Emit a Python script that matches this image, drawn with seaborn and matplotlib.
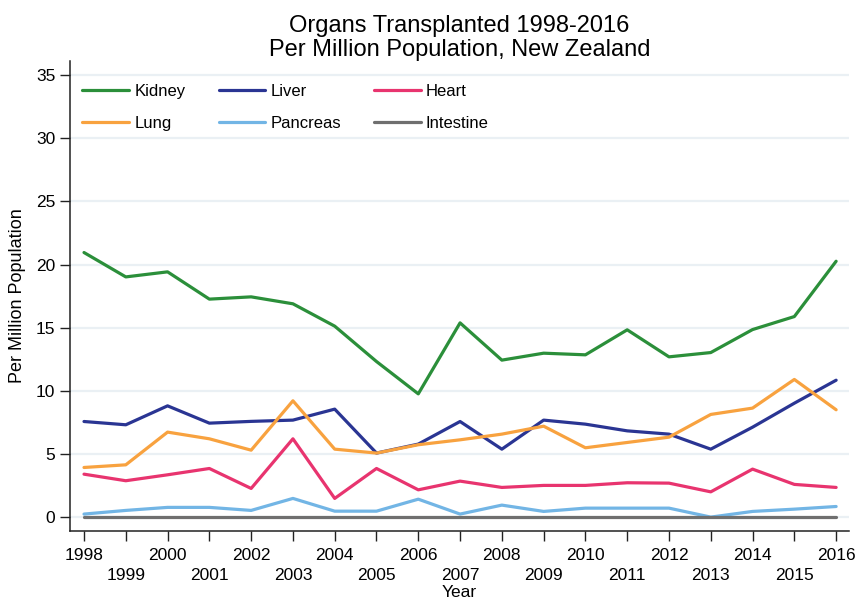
import matplotlib
matplotlib.use("Agg")
import matplotlib.pyplot as plt
import seaborn as sns
import pandas as pd

years = list(range(1998, 2017))
kidney = [20.95, 19.02, 19.42, 17.26, 17.44, 16.89, 15.12, 12.32, 9.76, 15.38,
          12.43, 12.98, 12.85, 14.83, 12.69, 13.03, 14.85, 15.88, 20.26]
liver = [7.57, 7.31, 8.81, 7.44, 7.58, 7.68, 8.55, 5.07, 5.78, 7.57,
         5.38, 7.68, 7.36, 6.83, 6.57, 5.38, 7.12, 9.02, 10.84]
heart = [3.40, 2.88, 3.35, 3.85, 2.27, 6.20, 1.48, 3.85, 2.16, 2.85,
         2.35, 2.51, 2.51, 2.72, 2.69, 2.00, 3.80, 2.59, 2.35]
lung = [3.93, 4.14, 6.73, 6.20, 5.30, 9.21, 5.38, 5.07, 5.73, 6.12,
        6.57, 7.20, 5.49, 5.91, 6.33, 8.13, 8.63, 10.90, 8.50]
pancreas = [0.24, 0.53, 0.77, 0.77, 0.53, 1.48, 0.47, 0.47, 1.42, 0.24,
            0.95, 0.45, 0.71, 0.71, 0.71, 0.0, 0.45, 0.63, 0.84]
intestine = [0.0] * 19

organs = ["Kidney", "Liver", "Heart", "Lung", "Pancreas", "Intestine"]
series = [kidney, liver, heart, lung, pancreas, intestine]
colors = {"Kidney": "#2b8f3a", "Liver": "#2a3593", "Heart": "#e8346f",
          "Lung": "#f8a23f", "Pancreas": "#72b5e5", "Intestine": "#6f6f6f"}

even_years = [y for y in years if y % 2 == 0]
odd_years = [y for y in years if y % 2 == 1]
y_ticks = [0, 5, 10, 15, 20, 25, 30, 35]

df = pd.DataFrame({
    "Year": [y for s in series for y in years],
    "Value": [v for s in series for v in s],
    "Organ": [o for o, s in zip(organs, series) for _ in years],
})

sns.set_style("white")
plt.rcParams["font.family"] = ["Liberation Sans", "DejaVu Sans"]
plt.rcParams["text.color"] = "black"
plt.rcParams["axes.labelcolor"] = "black"

fig = plt.figure(figsize=(8.58, 6.0), dpi=100)
ax = fig.add_axes([0.0816, 0.115, 0.908, 0.783])

sns.lineplot(data=df, x="Year", y="Value", hue="Organ", hue_order=organs,
             palette=colors, linewidth=2.3, ax=ax, legend=True)

ax.set_xlim(1997.665, 2016.31)
ax.set_ylim(-1.1, 36.1)
ax.set_yticks(y_ticks)
ax.set_yticklabels([str(v) for v in y_ticks])
ax.set_xticks(even_years)
ax.set_xticklabels([str(y) for y in even_years])
ax.set_xticks(odd_years, minor=True)
ax.set_xticklabels([str(y) for y in odd_years], minor=True)
ax.tick_params(axis="both", which="both", direction="out", length=7, width=1,
               color="#222222", labelsize=12.5, labelcolor="black",
               left=True, bottom=True)
ax.tick_params(axis="y", pad=3.5)
ax.tick_params(axis="x", which="major", pad=5.5)
ax.tick_params(axis="x", which="minor", pad=19.5)
ax.grid(axis="y", which="major", color="#eaf0f4", linewidth=1.6)
ax.grid(axis="x", which="both", visible=False)
ax.set_axisbelow(True)
for s in ["top", "right"]:
    ax.spines[s].set_visible(False)
for s in ["left", "bottom"]:
    ax.spines[s].set_color("#222222")
    ax.spines[s].set_linewidth(1.1)

ax.set_xlabel("Year", fontsize=12.5, color="black")
ax.xaxis.set_label_coords(0.5, -0.115)
ax.set_ylabel("Per Million Population", fontsize=13, labelpad=7, color="black")
ax.set_title("Organs Transplanted 1998-2016\nPer Million Population, New Zealand",
             fontsize=17, pad=3, linespacing=1.12, color="black")

handles, labels = ax.get_legend_handles_labels()
hmap = dict(zip(labels, handles))
order = ["Kidney", "Lung", "Liver", "Pancreas", "Heart", "Intestine"]
leg = ax.legend([hmap[o] for o in order], order, ncol=3, loc="upper left",
                bbox_to_anchor=(0.016, 0.951), frameon=False, fontsize=12,
                handlelength=2.8, handletextpad=0.3, columnspacing=2.0,
                labelspacing=1.0, borderaxespad=0, borderpad=0)
for line in leg.get_lines():
    line.set_linewidth(2.3)
for t in leg.get_texts():
    t.set_color("black")

fig.savefig("out.png", dpi=100)
